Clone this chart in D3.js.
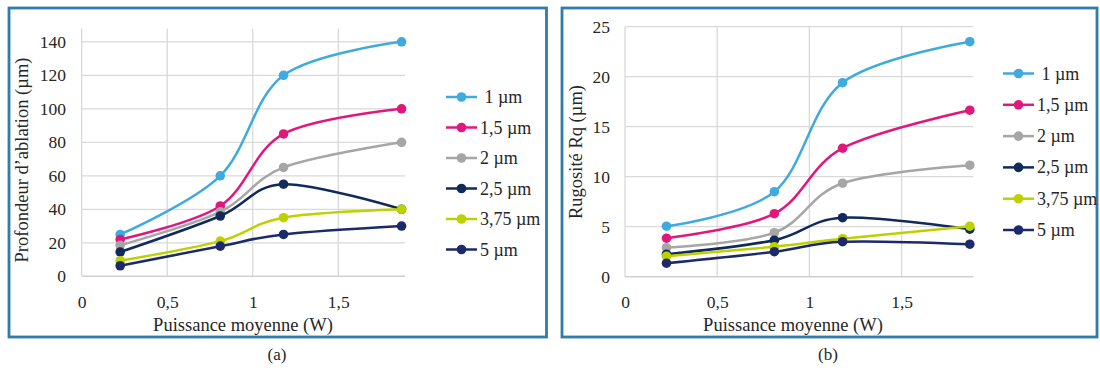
<!DOCTYPE html>
<html><head><meta charset="utf-8">
<script src="https://cdn.jsdelivr.net/npm/d3@7"></script>
<style>
html,body{margin:0;padding:0;background:#fff;}
svg text{font-family:"Liberation Serif","Times New Roman",serif !important;fill:#262626;}
</style></head>
<body>
<svg id="c" width="1100" height="372"></svg>
<script>
// ---- data ----
const seriesNames = [" 1 µm", "1,5 µm", "2 µm", "2,5 µm", "3,75 µm", "5 µm"];
const seriesColors = ["#3FAADD", "#E0187D", "#A6A6A6", "#112A5B", "#BDD000", "#1C2A6B"];
const power = [0.225, 0.81, 1.18, 1.87];
const depth1 = [25, 60, 120, 140];
const depth15 = [22, 42, 85, 100];
const depth2 = [18.5, 38.5, 65, 80];
const depth25 = [14.5, 36, 55, 40];
const depth375 = [9.3, 21, 35, 40];
const depth5 = [6.3, 18, 25, 30];
const rough1 = [5.05, 8.5, 19.4, 23.5];
const rough15 = [3.85, 6.3, 12.85, 16.65];
const rough2 = [2.9, 4.4, 9.35, 11.15];
const rough25 = [2.25, 3.65, 5.9, 4.75];
const rough375 = [2.05, 3.0, 3.8, 5.05];
const rough5 = [1.35, 2.5, 3.5, 3.25];
const xTicks = [0, 0.5, 1, 1.5];
const xTickLabels = ["0", "0,5", "1", "1,5"];
const depthTicks = [0, 20, 40, 60, 80, 100, 120, 140];
const roughTicks = [0, 5, 10, 15, 20, 25];
const xTitle = "Puissance moyenne (W)";
const depthTitle = "Profondeur d’ablation (µm)";
const roughTitle = "Rugosité Rq (µm)";
const captions = ["(a)", "(b)"];

const FONT = '"Liberation Serif","Times New Roman",serif';
const svg = d3.select("#c");

function panel(cfg) {
  const g = svg.append("g");
  g.append("rect").attr("x", cfg.frame[0]).attr("y", cfg.frame[1])
    .attr("width", cfg.frame[2] - cfg.frame[0]).attr("height", cfg.frame[3] - cfg.frame[1])
    .attr("fill", "none").attr("stroke", "#2F7DA9").attr("stroke-width", 2.8);

  const x = d3.scaleLinear().domain(cfg.xDomain).range(cfg.xRange);
  const y = d3.scaleLinear().domain(cfg.yDomain).range(cfg.yRange);
  const top = cfg.yRange[1];
  const bottom = cfg.yRange[0];

  g.selectAll(".hg").data(cfg.yTicks.filter(d => d > 0)).enter().append("line")
    .attr("x1", cfg.xRange[0]).attr("x2", cfg.xRange[1])
    .attr("y1", d => y(d)).attr("y2", d => y(d))
    .attr("stroke", "#D9D9D9").attr("stroke-width", 1.3);
  g.selectAll(".vg").data(xTicks).enter().append("line")
    .attr("x1", d => x(d)).attr("x2", d => x(d))
    .attr("y1", top).attr("y2", bottom)
    .attr("stroke", "#D9D9D9").attr("stroke-width", 1.3);
  g.append("line").attr("x1", cfg.xRange[0]).attr("x2", cfg.xRange[1])
    .attr("y1", bottom).attr("y2", bottom).attr("stroke", "#D0D0D0").attr("stroke-width", 1.5);

  const xa = g.append("g").attr("transform", `translate(0,${bottom})`)
    .call(d3.axisBottom(x).tickValues(xTicks).tickFormat((d, i) => xTickLabels[i]).tickSize(0).tickPadding(19));
  xa.attr("font-family", null).attr("font-size", null);
  xa.select(".domain").remove();
  xa.selectAll("text").style("font-size", "17.5px").style("font-family", FONT).style("fill", "#262626");

  const ya = g.append("g").attr("transform", `translate(${cfg.yLabelX},0)`)
    .call(d3.axisLeft(y).tickValues(cfg.yTicks).tickFormat(d => d).tickSize(0).tickPadding(0));
  ya.attr("font-family", null).attr("font-size", null);
  ya.select(".domain").remove();
  ya.selectAll("text").style("font-size", "17.5px").style("font-family", FONT).style("fill", "#262626");

  g.append("text").attr("x", cfg.xTitlePos[0]).attr("y", cfg.xTitlePos[1])
    .attr("text-anchor", "middle").style("font-size", "18.5px").style("font-family", FONT).text(xTitle);
  g.append("text").attr("transform", `translate(${cfg.yTitlePos[0]},${cfg.yTitlePos[1]}) rotate(-90)`)
    .attr("text-anchor", "middle").style("font-size", "18.5px").style("font-family", FONT).text(cfg.yTitle);
  g.append("text").attr("x", cfg.captionPos[0]).attr("y", cfg.captionPos[1])
    .attr("text-anchor", "middle").style("font-size", "17px").style("font-family", FONT).text(cfg.caption);

  const line = d3.line().x((d, i) => x(power[i])).y(d => y(d)).curve(d3.curveCardinal.tension(0));
  cfg.series.forEach((vals, si) => {
    const sg = g.append("g");
    sg.append("path").attr("d", line(vals)).attr("fill", "none")
      .attr("stroke", seriesColors[si]).attr("stroke-width", 2.5);
    sg.selectAll("circle").data(vals).enter().append("circle")
      .attr("cx", (d, i) => x(power[i])).attr("cy", d => y(d)).attr("r", 4.8)
      .attr("fill", seriesColors[si]);
  });

  const lg = g.append("g");
  seriesNames.forEach((n, i) => {
    const yy = cfg.legend.y0 + i * cfg.legend.dy;
    lg.append("line").attr("x1", cfg.legend.x0).attr("x2", cfg.legend.x0 + 31)
      .attr("y1", yy).attr("y2", yy).attr("stroke", seriesColors[i]).attr("stroke-width", 2.5);
    lg.append("circle").attr("cx", cfg.legend.x0 + 15.5).attr("cy", yy).attr("r", 4.8).attr("fill", seriesColors[i]);
    lg.append("text").attr("x", cfg.legend.x0 + 34).attr("y", yy + 6)
      .style("font-size", "18px").style("font-family", FONT).style("white-space", "pre").text(n);
  });
}

panel({
  frame: [9, 8, 546.5, 337],
  xDomain: [0, 1.89], xRange: [81.7, 405],
  yDomain: [0, 148], yRange: [276.3, 28.4],
  yTicks: depthTicks, yLabelX: 66,
  series: [depth1, depth15, depth2, depth25, depth375, depth5],
  xTitlePos: [243, 331], yTitlePos: [28, 160], yTitle: depthTitle,
  captionPos: [277, 360], caption: captions[0],
  legend: { x0: 446, y0: 97, dy: 30.5 }
});
panel({
  frame: [562, 8, 1097, 337],
  xDomain: [0, 1.889], xRange: [625, 973.3],
  yDomain: [0, 25], yRange: [276.7, 26.7],
  yTicks: roughTicks, yLabelX: 610,
  series: [rough1, rough15, rough2, rough25, rough375, rough5],
  xTitlePos: [793, 331], yTitlePos: [582, 152], yTitle: roughTitle,
  captionPos: [828, 360], caption: captions[1],
  legend: { x0: 1003, y0: 73.5, dy: 31.3 }
});
</script>
</body></html>
